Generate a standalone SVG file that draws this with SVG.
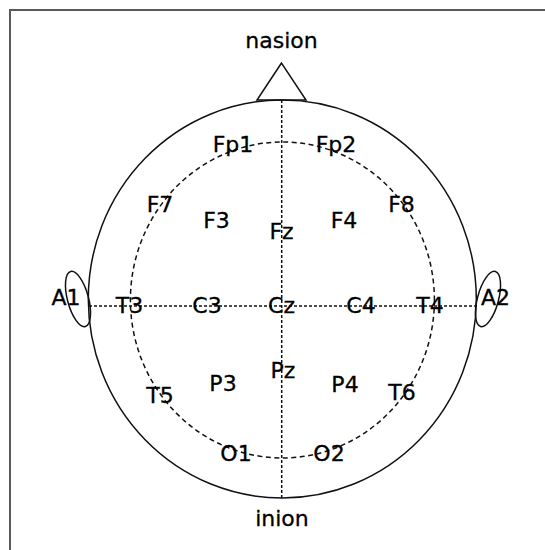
<svg xmlns="http://www.w3.org/2000/svg" width="545" height="550" viewBox="0 0 545 550">
<style>
.lbl{font-family:"DejaVu Sans",Verdana,sans-serif;font-size:22px;fill:#000;stroke:#000;stroke-width:0.3;text-anchor:middle}
.ln{fill:none;stroke:#111;stroke-width:1.5}
.dot{fill:none;stroke:#111;stroke-width:1.5;stroke-dasharray:3 2}
.dash{fill:none;stroke:#111;stroke-width:1.5;stroke-dasharray:5 3.5}
</style>
<rect x="0" y="0" width="545" height="550" fill="#fff"/>
<rect x="10" y="10" width="560" height="560" fill="none" stroke="#5a5a5a" stroke-width="2"/>
<g id="ear-left"><ellipse cx="78" cy="299" rx="10.5" ry="28.5" transform="rotate(-15 78 299)" class="ln" fill="#fff"/></g>
<g id="ear-right"><ellipse cx="488" cy="299" rx="10.5" ry="28.5" transform="rotate(15 488 299)" class="ln" fill="#fff"/></g>
<g id="head"><ellipse cx="282.3" cy="299" rx="194" ry="199" class="ln" fill="#fff"/></g>
<g id="nose"><polygon points="281.5,63 257,100 306,100" class="ln" fill="#fff"/></g>
<g id="connectors">
<ellipse cx="282.4" cy="300" rx="152" ry="158" class="dash"/>
<line x1="281.7" y1="100" x2="281.7" y2="498" class="dot"/>
<line x1="89" y1="306" x2="477" y2="306" class="dot"/>
</g>
<g id="nasion"><text class="lbl" x="281.5" y="48">nasion</text></g>
<g id="inion"><text class="lbl" x="282" y="526">inion</text></g>
<g id="Fp1"><text class="lbl" x="233" y="152">Fp1</text></g>
<g id="Fp2"><text class="lbl" x="336" y="152">Fp2</text></g>
<g id="F7"><text class="lbl" x="160" y="212">F7</text></g>
<g id="F3"><text class="lbl" x="216.5" y="228">F3</text></g>
<g id="Fz"><text class="lbl" x="281.5" y="239">Fz</text></g>
<g id="F4"><text class="lbl" x="344" y="228">F4</text></g>
<g id="F8"><text class="lbl" x="401.5" y="212">F8</text></g>
<g id="A1"><text class="lbl" x="66" y="305">A1</text></g>
<g id="T3"><text class="lbl" x="129.5" y="313">T3</text></g>
<g id="C3"><text class="lbl" x="207" y="313">C3</text></g>
<g id="Cz"><text class="lbl" x="281.5" y="313">Cz</text></g>
<g id="C4"><text class="lbl" x="361" y="313">C4</text></g>
<g id="T4"><text class="lbl" x="430" y="313">T4</text></g>
<g id="A2"><text class="lbl" x="495.5" y="305">A2</text></g>
<g id="Pz"><text class="lbl" x="283" y="378">Pz</text></g>
<g id="P3"><text class="lbl" x="223" y="391">P3</text></g>
<g id="P4"><text class="lbl" x="345" y="392">P4</text></g>
<g id="T5"><text class="lbl" x="160" y="403">T5</text></g>
<g id="T6"><text class="lbl" x="402" y="400">T6</text></g>
<g id="O1"><text class="lbl" x="236" y="461">O1</text></g>
<g id="O2"><text class="lbl" x="329" y="461">O2</text></g>
</svg>
